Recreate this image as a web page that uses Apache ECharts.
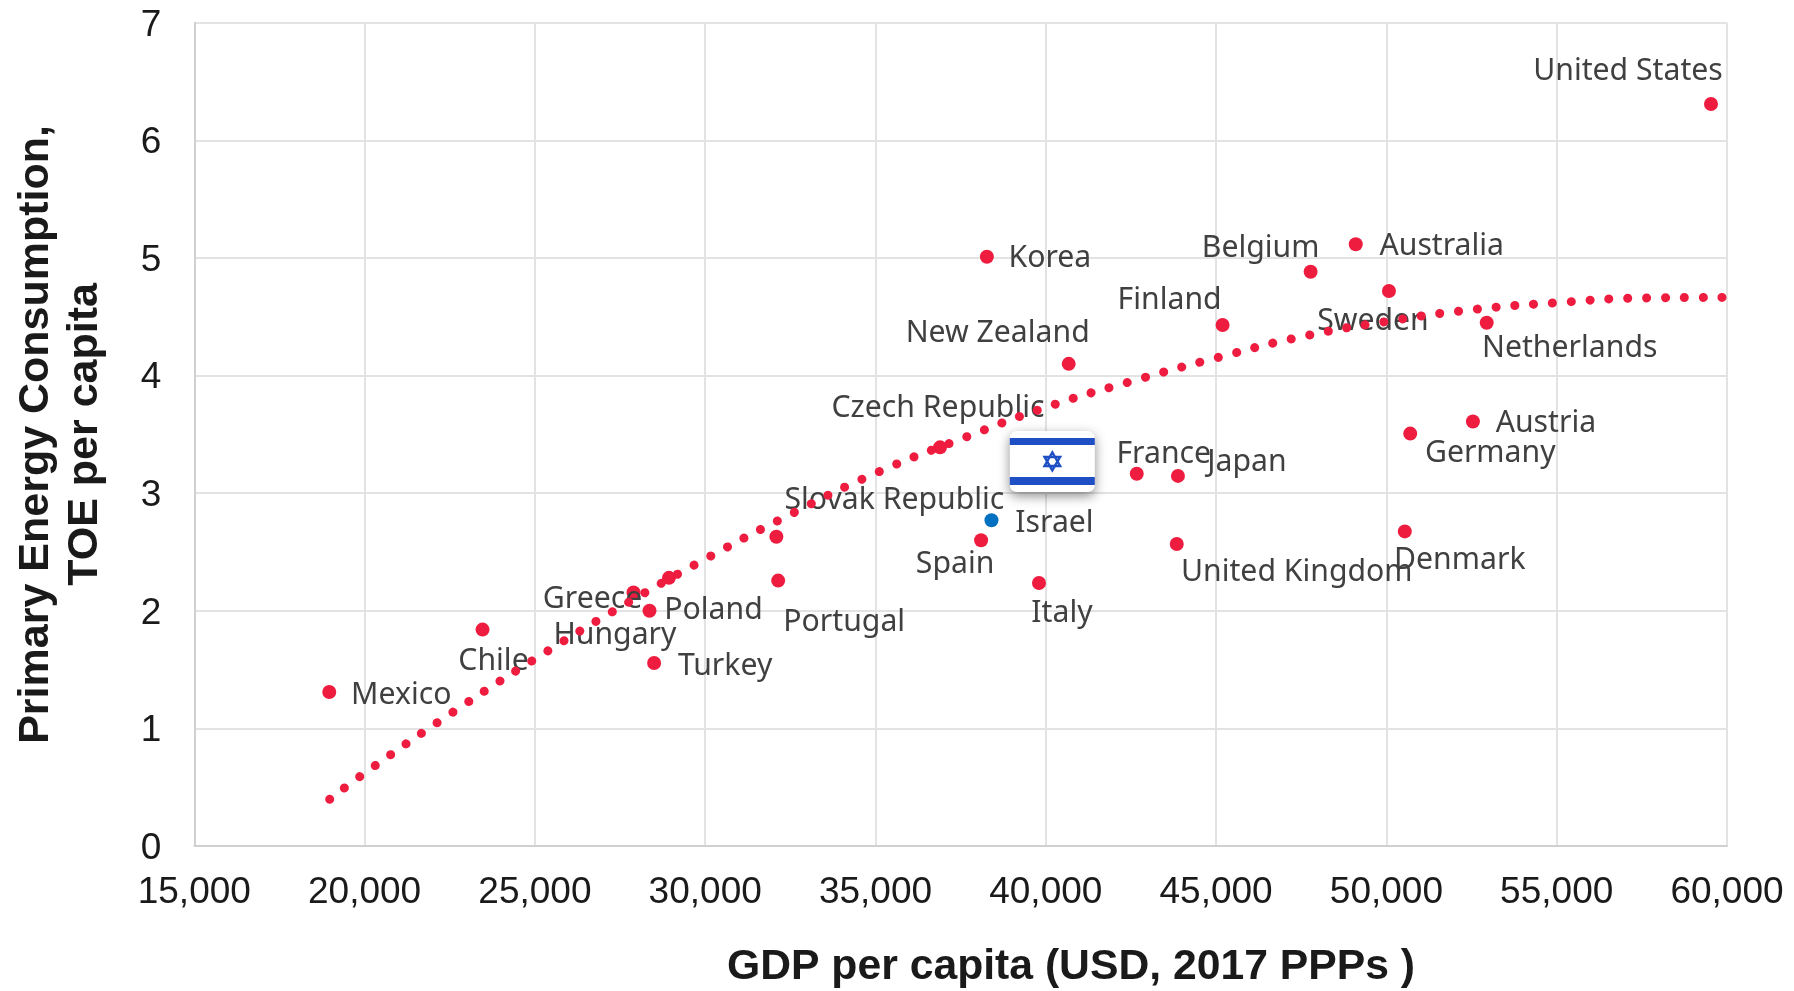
<!DOCTYPE html>
<html>
<head>
<meta charset="utf-8">
<script src="https://cdn.jsdelivr.net/npm/echarts@6/dist/echarts.min.js"></script>
<style>html,body{margin:0;padding:0;background:#fff}#chart{width:1794px;height:991px}</style>
</head>
<body>
<div id="chart"></div>
<script>
// OECD countries: GDP per capita against primary energy use
const countries = ['Mexico','Chile','Greece','Hungary','Poland','Turkey','Portugal','Slovak Republic','Czech Republic','Spain','Korea','New Zealand','Italy','France','Japan','United Kingdom','Finland','Belgium','Australia','Sweden','Netherlands','Germany','Denmark','Austria','United States'];
const gdpPerCapita = [18963,23462,27895,28936,28365,28500,32143,32090,36894,38100,38270,40672,39800,42670,43880,43845,45190,47775,49100,50075,52945,50700,50540,52540,59530];
const energyPerCapita = [1.31,1.84,2.155,2.28,2.0,1.556,2.257,2.63,3.39,2.6,5.01,4.1,2.237,3.166,3.147,2.568,4.43,4.883,5.117,4.72,4.45,3.507,2.675,3.61,6.31];
const israelGdp = [38405];
const israelEnergy = [2.77];
const trendGdp = [18975,20000,22500,25000,27500,30000,32500,35000,37500,40000,42500,45000,47500,50000,52500,55000,57500,59900];
const trendEnergy = [0.397,0.62,1.12,1.59,2.03,2.44,2.82,3.17,3.46,3.73,3.95,4.15,4.33,4.46,4.56,4.62,4.66,4.665];
const xTicks = {min:15000,max:60000,interval:5000};
const yTicks = {min:0,max:7,interval:1};

// Hand-placed label offsets (px from the dot), so names avoid each other
const labelOffset = {
  'Mexico':[72,3],'Chile':[11,32],'Greece':[-41,7],'Hungary':[-54,58],'Poland':[64,0],'Turkey':[71,3],
  'Portugal':[66,42],'Slovak Republic':[118,-36],'Czech Republic':[-2,-39],'Spain':[-26,24],'Israel':[63,3],
  'Korea':[63,2],'New Zealand':[-71,-30],'Italy':[23,30],'France':[27,-19],'Japan':[69,-14],
  'United Kingdom':[120,28],'Finland':[-53,-25],'Belgium':[-50,-23],'Australia':[86,2],'Sweden':[-16,30],
  'Netherlands':[83,26],'Germany':[80,20],'Denmark':[55,29],'Austria':[73,2],'United States':[-83,-33]
};
const labelFont = '"Noto Sans"';
const red = '#ee1c3f';
const blue = '#0070c0';
const flagBlue = '#1f4fc4';

function pointLabel(name){
  return {show:true,position:'inside',align:'center',verticalAlign:'middle',offset:labelOffset[name],
    formatter:name,fontFamily:labelFont,fontSize:30.2,color:'#404040'};
}
const redPoints = countries.map((n,i)=>({name:n,value:[gdpPerCapita[i],energyPerCapita[i]],label:pointLabel(n)}));
const israelPoint = [{name:'Israel',value:[israelGdp[0],israelEnergy[0]],label:pointLabel('Israel')}];
const trendLine = trendGdp.map((x,i)=>[x,trendEnergy[i]]);

// Israeli flag badge, anchored in data coordinates above the Israel dot
function renderFlag(params,api){
  const c = api.coord([api.value(0),api.value(1)]);
  const w=85, h=61, l=c[0]-w/2, t=c[1]-h/2;
  const star = (pts)=>({type:'polygon',shape:{points:pts.map(p=>[c[0]+p[0],c[1]+p[1]])},
    style:{fill:'none',stroke:flagBlue,lineWidth:2.4}});
  const r=9;
  const up=[[0,-r],[r*.866,r*.5],[-r*.866,r*.5]], down=[[0,r],[r*.866,-r*.5],[-r*.866,-r*.5]];
  return {type:'group',children:[
    {type:'rect',shape:{x:l,y:t,width:w,height:h,r:7},
      style:{fill:'#fff',shadowBlur:12,shadowColor:'rgba(0,0,0,0.45)',shadowOffsetY:4}},
    {type:'rect',shape:{x:l,y:t+7,width:w,height:7},style:{fill:flagBlue}},
    {type:'rect',shape:{x:l,y:t+46,width:w,height:8},style:{fill:flagBlue}},
    star(up),star(down)
  ]};
}

const chart = echarts.init(document.getElementById('chart'),null,{renderer:'canvas'});
chart.setOption({
  animation:false,
  backgroundColor:'#fff',
  title:{text:'GDP per capita (USD, 2017 PPPs )',left:1066,top:941,textAlign:'center',
    textStyle:{fontFamily:'"Liberation Sans"',fontWeight:'bold',fontSize:42.7,color:'#1a1a1a'}},
  grid:{left:194.3,right:67,top:22.8,bottom:145,containLabel:false,outerBoundsMode:'none'},
  xAxis:{type:'value',...xTicks,
    axisLine:{onZero:false,lineStyle:{color:'#d0d0d0',width:2}},axisTick:{show:false},
    splitLine:{show:true,lineStyle:{color:'#e3e3e3',width:2}},
    axisLabel:{margin:28,fontFamily:'"Liberation Sans"',fontSize:37,color:'#1a1a1a',
      showMinLabel:true,showMaxLabel:true,hideOverlap:false,
      formatter:v=>v.toLocaleString('en-US')}},
  yAxis:{type:'value',...yTicks,
    name:'Primary Energy Consumption,\nTOE per capita',nameLocation:'middle',nameRotate:90,nameGap:85,
    nameTextStyle:{fontFamily:'"Liberation Sans"',fontWeight:'bold',fontSize:43,color:'#1a1a1a',lineHeight:49,align:'center'},
    axisLine:{show:true,lineStyle:{color:'#d0d0d0',width:2}},axisTick:{show:false},
    splitLine:{show:true,lineStyle:{color:'#e3e3e3',width:2}},
    axisLabel:{margin:33,verticalAlign:'top',lineHeight:5,fontFamily:'"Liberation Sans"',fontSize:37,color:'#1a1a1a'}},
  series:[
    {name:'Countries',type:'scatter',z:3,symbolSize:14,itemStyle:{color:red,opacity:1},data:redPoints,clip:false},
    {name:'Israel',type:'scatter',z:3,symbolSize:14,itemStyle:{color:blue,opacity:1},data:israelPoint,clip:false},
    {name:'Trend',type:'line',z:4,showSymbol:false,smooth:true,data:trendLine,
      lineStyle:{color:red,width:9,cap:'round',type:[0.1,18.75]}},
    {name:'Flag',type:'custom',z:5,renderItem:renderFlag,silent:true,data:[[40191,3.27]]}
  ]
});
</script>
</body>
</html>
